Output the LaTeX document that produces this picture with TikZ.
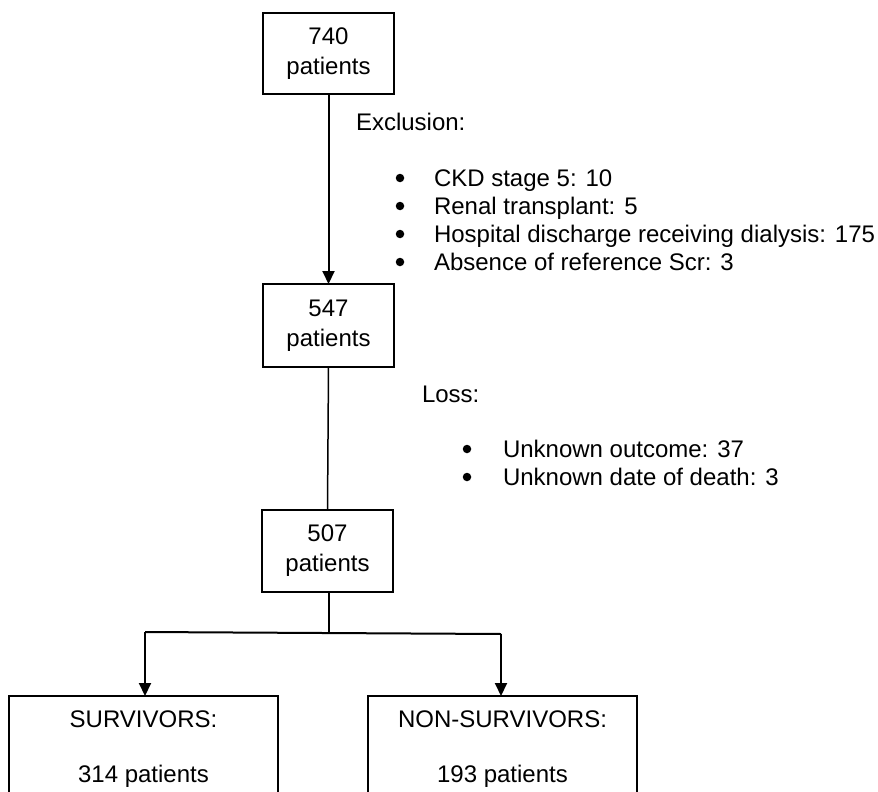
\documentclass[tikz,border=0pt]{standalone}
\usepackage{fontspec}
\setmainfont{Liberation Sans}
\usetikzlibrary{arrows.meta}
\begin{document}
\begin{tikzpicture}[x=1pt,y=-1pt,
  every node/.style={inner sep=0pt,outer sep=0pt},
  txt/.style={font=\fontsize{24}{28}\selectfont},
  bul/.style={circle,fill=black,minimum size=8.5pt},
  numbox/.style={draw,line width=1.4pt,minimum width=131pt,align=center,
    font=\fontsize{24}{30}\selectfont},
  bigbox/.style={draw,line width=1.4pt,minimum width=269pt,minimum height=110pt,anchor=north},
  arr/.style={line width=2pt,-{Triangle[width=12pt,length=13pt]}},
  thick line/.style={line width=2pt},
  thin line/.style={line width=1.5pt}]
\clip (0,0) rectangle (878,792);
\fill[white] (0,0) rectangle (878,792);
% boxes
\node[numbox,minimum height=81pt] (b1) at (328.5,53.5) {740\\patients};
\node[numbox,minimum height=83pt] (b2) at (328.5,325.5) {547\\patients};
\node[numbox,minimum height=82pt] (b3) at (327.5,551) {507\\patients};
\node[bigbox] (s) at (143.5,696) {};
\node[bigbox] (ns) at (502.5,696) {};
\node[txt,anchor=base] (st) at (143.5,727) {SURVIVORS:};
\node[txt,anchor=base] (sn) at (143.5,782) {314 patients};
\node[txt,anchor=base] (nst) at (502.5,727) {NON-SURVIVORS:};
\node[txt,anchor=base] (nsn) at (502.5,782) {193 patients};
% exclusion
\node[txt,anchor=base west] (ex) at (356,130) {Exclusion:};
\node[bul] (e1b) at (400,178) {};
\node[txt,anchor=base west] (e1) at (434,186) {CKD stage 5: 10};
\node[bul] (e2b) at (400,206) {};
\node[txt,anchor=base west] (e2) at (434,214) {Renal transplant: 5};
\node[bul] (e3b) at (400,234) {};
\node[txt,anchor=base west] (e3) at (434,242) {Hospital discharge receiving dialysis: 175};
\node[bul] (e4b) at (400,262) {};
\node[txt,anchor=base west] (e4) at (434,270) {Absence of reference Scr: 3};
% loss
\node[txt,anchor=base west] (lo) at (422,402) {Loss:};
\node[bul] (l1b) at (467,449) {};
\node[txt,anchor=base west] (l1) at (503,457) {Unknown outcome: 37};
\node[bul] (l2b) at (467,477) {};
\node[txt,anchor=base west] (l2) at (503,485) {Unknown date of death: 3};
% connectors
\draw[arr] (b1.south) -- (b2.north);
\draw[thin line] (b2.south) -- (b3.south |- b3.north);
\coordinate (j) at (329,633);
\draw[thin line] (329,592) coordinate (b3s) -- (j);
\draw[thick line] (145,632) coordinate (jl) -- (501,634) coordinate (jr);
\draw[arr] (jl) -- (jl |- s.north);
\draw[arr] (jr) -- (jr |- ns.north);
\end{tikzpicture}
\end{document}
